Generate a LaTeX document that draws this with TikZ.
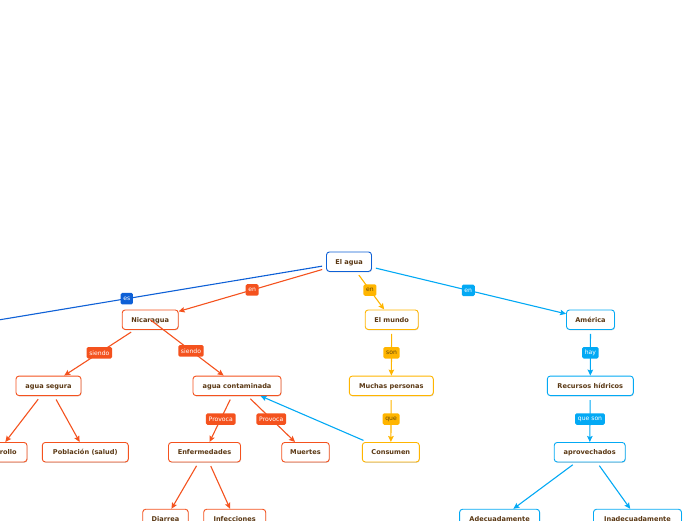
\documentclass[tikz,border=0pt]{standalone}
\usepackage{fontspec}
\setmainfont{DejaVu Sans}
\usetikzlibrary{arrows.meta,shadows,calc}
\definecolor{cor}{RGB}{244,82,30}
\definecolor{cye}{RGB}{255,181,0}
\definecolor{clb}{RGB}{3,169,244}
\definecolor{cdb}{RGB}{14,96,214}
\definecolor{ntxt}{RGB}{90,56,20}
\definecolor{ytxt}{RGB}{100,70,10}
\newcommand{\nfont}{\bfseries\fontsize{6.6}{8}\selectfont}
\newcommand{\lfont}{\fontsize{6.1}{7}\selectfont}
\tikzset{
  cbox/.style={draw=#1, line width=0.9pt, fill=white, rounded corners=3pt,
    minimum height=19.5pt, inner xsep=1pt, inner ysep=0pt, font=\nfont, text=ntxt,
    text height=4.9pt, text depth=0pt,
    drop shadow={shadow xshift=0.5pt, shadow yshift=-0.8pt, opacity=0.25, fill=black!60}},
  cln/.style={draw=#1, line width=1.1pt, -{Stealth[length=6pt,width=5.5pt,inset=1pt]}, shorten <=4pt},
  clbl/.style={fill=#1, text=white, font=\lfont, rounded corners=1.5pt,
    inner xsep=2.7pt, inner ysep=0pt, minimum height=11.5pt},
  ylbl/.style={clbl=cye, text=ytxt}
}
\begin{document}
\begin{tikzpicture}[x=1pt,y=-1pt]
\useasboundingbox (0,0) rectangle (696,520);
\clip (0,0) rectangle (696,520);
% nodes
\node[cbox=cdb, minimum width=45pt] (agua) at (349,261.7) {El agua};
\node[cbox=cor, minimum width=56pt] (nic) at (150.2,319.7) {Nicaragua};
\node[cbox=cye, minimum width=53pt] (mundo) at (391.7,319.7) {El mundo};
\node[cbox=clb, minimum width=48pt] (amer) at (590.5,319.7) {América};
\node[cbox=cor, minimum width=65pt] (segura) at (48.5,385.8) {agua segura};
\node[cbox=cor, minimum width=88pt] (cont) at (237,385.8) {agua contaminada};
\node[cbox=cye, minimum width=84pt] (muchas) at (391.3,385.8) {Muchas personas};
\node[cbox=clb, minimum width=86pt] (recur) at (590.3,385.8) {Recursos hídricos};
\node[cbox=cor, minimum width=59pt] (desa) at (-2.5,452.2) {Desarrollo};
\node[cbox=cor, minimum width=86pt] (pobl) at (85.3,452.2) {Población (salud)};
\node[cbox=cor, minimum width=72pt] (enf) at (204.5,452.2) {Enfermedades};
\node[cbox=cor, minimum width=47.5pt] (muer) at (305.5,452.2) {Muertes};
\node[cbox=cye, minimum width=57pt] (cons) at (390.8,452.2) {Consumen};
\node[cbox=clb, minimum width=71pt] (aprov) at (589.7,452.2) {aprovechados};
\node[cbox=cor, minimum width=45.5pt] (diar) at (165.5,519) {Diarrea};
\node[cbox=cor, minimum width=62pt] (infec) at (234.7,519) {Infecciones};
\node[cbox=clb, minimum width=80pt] (adec) at (499.6,519) {Adecuadamente};
\node[cbox=clb, minimum width=88pt] (inad) at (637.5,519) {Inadecuadamente};
\coordinate (offl) at (-250,361.3);
% connectors
\draw[cdb, line width=1.1pt, shorten <=4pt] (agua) -- (offl);
\draw[cln=cor] (agua) -- (nic);
\draw[cln=cye] (agua) -- (mundo);
\draw[cln=clb] (agua) -- (amer);
\draw[cln=cor] (nic) -- (segura);
\draw[cln=cor, shorten <=0pt] (nic.center) -- (cont);
\draw[cln=cye] (mundo) -- (muchas);
\draw[cln=clb] (amer) -- (recur);
\draw[cln=cor] (segura) -- (desa);
\draw[cln=cor] (segura) -- (pobl);
\draw[cln=cor] (cont) -- (enf);
\draw[cln=cor] (cont) -- (muer);
\draw[cln=cye] (muchas) -- (cons);
\draw[cln=clb] (cons) -- (cont);
\draw[cln=clb] (recur) -- (aprov);
\draw[cln=clb] (aprov) -- (adec);
\draw[cln=clb] (aprov) -- (inad);
\draw[cln=cor] (enf) -- (diar);
\draw[cln=cor] (enf) -- (infec);
% labels
\node[clbl=cdb] (l1) at ($(agua)!0.371!(offl)$) {es};
\node[clbl=cor] (l2) at ($(agua)!0.487!(nic)$) {en};
\node[ylbl] (l3) at ($(agua)!0.49!(mundo)$) {en};
\node[clbl=clb] (l4) at ($(agua)!0.494!(amer)$) {en};
\node[clbl=cor] (l5) at ($(nic)!0.5!(segura)$) {siendo};
\node[clbl=cor] (l6) at ($(nic)!0.47!(cont)$) {siendo};
\node[ylbl] (l7) at ($(mundo)!0.5!(muchas)$) {son};
\node[clbl=clb] (l8) at ($(amer)!0.5!(recur)$) {hay};
\node[clbl=cor] (l9) at ($(cont)!0.5!(enf)$) {Provoca};
\node[clbl=cor] (l10) at ($(cont)!0.5!(muer)$) {Provoca};
\node[ylbl] (l11) at ($(muchas)!0.5!(cons)$) {que};
\node[clbl=clb] (l12) at ($(recur)!0.5!(aprov)$) {que son};
\end{tikzpicture}
\end{document}
